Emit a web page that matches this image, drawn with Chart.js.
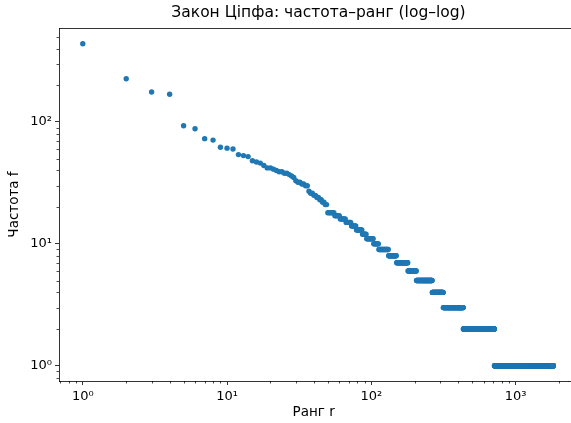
<!DOCTYPE html>
<html>
<head>
<meta charset="utf-8">
<script src="https://cdn.jsdelivr.net/npm/chart.js@4.4.1/dist/chart.umd.min.js"></script>
<style>
  html, body { margin: 0; padding: 0; background: #ffffff; }
  #wrap { width: 571px; height: 423px; }
</style>
</head>
<body>
<div id="wrap"><canvas id="c" width="571" height="423"></canvas></div>
<script>
// ---- Data ----
// Frequencies of ranks 1..49 (individually visible points)
const headFreqs = [438, 226, 176, 169, 93, 88, 73, 71, 62, 61, 60, 54, 53, 52, 48, 47, 46, 44, 42, 42,
                   41, 40, 39, 39, 38, 38, 37, 36, 35, 33, 32, 32, 31, 31, 30, 30, 27, 26, 26, 25,
                   25, 24, 24, 23, 23, 22, 22, 21, 21];
// Tail plateaus: frequency value and the last rank that has it
const tailFreqs    = [18, 17, 16, 15, 14, 13, 12, 11, 10, 9, 8, 7, 6, 5, 4, 3, 2, 1];
const tailLastRank = [55, 60, 66, 72, 78, 86, 92, 103, 112, 131, 149, 179, 205, 264, 315, 434, 714, 1830];
// Tick labels
const xTickValues = [1, 10, 100, 1000];
const xTickLabels = ['10⁰', '10¹', '10²', '10³'];
const yTickValues = [1, 10, 100];
const yTickLabels = ['10⁰', '10¹', '10²'];
const titleText = 'Закон Ціпфа: частота–ранг (log–log)';
const xTitle = 'Ранг r';
const yTitle = 'Частота f';

// ---- Build points ----
const points = [];
headFreqs.forEach((f, i) => points.push({ x: i + 1, y: f }));
let rank = headFreqs.length + 1;
tailFreqs.forEach((f, k) => {
  for (; rank <= tailLastRank[k]; rank++) points.push({ x: rank, y: f });
});

const FONT = "'DejaVu Sans', sans-serif";
const BLUE = '#1f77b4';

const decor = {
  id: 'decor',
  afterDraw(chart) {
    const ctx = chart.ctx;
    const a = chart.chartArea;
    ctx.save();
    // title, centred over the full (cropped) axes box as in the reference
    ctx.fillStyle = '#000';
    ctx.font = '15.5px ' + FONT;
    ctx.textAlign = 'center';
    ctx.textBaseline = 'middle';
    ctx.fillText(titleText, 318.5, 13);
    ctx.strokeStyle = '#000';
    ctx.lineWidth = 0.8;
    // top spine and bottom spine extended to the cropped right edge
    ctx.beginPath();
    ctx.moveTo(a.left, a.top + 0.5);
    ctx.lineTo(chart.width, a.top + 0.5);
    ctx.moveTo(a.right, a.bottom + 0.5);
    ctx.lineTo(chart.width, a.bottom + 0.5);
    ctx.stroke();
    const xs = chart.scales.x, ys = chart.scales.y;
    ctx.lineWidth = 0.7;
    for (let p = -1; p <= 4; p++) {
      for (let m = 2; m <= 9; m++) {
        const v = m * Math.pow(10, p);
        if (v > xs.min && v < xs.max) {
          const px = Math.round(xs.getPixelForValue(v)) + 0.5;
          ctx.beginPath(); ctx.moveTo(px, a.bottom); ctx.lineTo(px, a.bottom + 2.5); ctx.stroke();
        }
        if (v > ys.min && v < ys.max) {
          const py = Math.round(ys.getPixelForValue(v)) + 0.5;
          ctx.beginPath(); ctx.moveTo(a.left, py); ctx.lineTo(a.left - 2.5, py); ctx.stroke();
        }
      }
    }
    ctx.restore();
  }
};

new Chart(document.getElementById('c'), {
  type: 'scatter',
  data: {
    datasets: [{
      data: points,
      backgroundColor: BLUE,
      borderWidth: 0,
      pointRadius: 2.7,
      pointHoverRadius: 2.7
    }]
  },
  options: {
    responsive: false,
    animation: false,
    events: [],
    layout: { padding: { left: 0, right: 0, top: 28, bottom: 0 } },
    plugins: {
      legend: { display: false },
      tooltip: { enabled: false },
      title: { display: false }
    },
    scales: {
      x: {
        type: 'logarithmic',
        min: 0.684,
        max: 2323,
        afterFit(s) { s.height = 42; },
        afterBuildTicks(s) { s.ticks = xTickValues.map(v => ({ value: v })); },
        ticks: {
          autoSkip: false,
          maxRotation: 0,
          padding: 4,
          color: '#000',
          font: { family: FONT, size: 13 },
          callback(v) { const i = xTickValues.indexOf(v); return i >= 0 ? xTickLabels[i] : ''; }
        },
        grid: { drawOnChartArea: false, drawTicks: true, tickLength: 4, tickColor: '#000', tickWidth: 0.8 },
        border: { display: true, color: '#000', width: 0.8 },
        title: { display: true, text: xTitle, color: '#000', font: { family: FONT, size: 13.5 }, padding: { top: 2, bottom: 2 } }
      },
      y: {
        type: 'logarithmic',
        min: 0.75,
        max: 590,
        afterFit(s) { s.width = 59; },
        afterBuildTicks(s) { s.ticks = yTickValues.map(v => ({ value: v })); },
        ticks: {
          autoSkip: false,
          padding: 3,
          color: '#000',
          font: { family: FONT, size: 13 },
          callback(v) { const i = yTickValues.indexOf(v); return i >= 0 ? yTickLabels[i] : ''; }
        },
        grid: { drawOnChartArea: false, drawTicks: true, tickLength: 4, tickColor: '#000', tickWidth: 0.8 },
        border: { display: true, color: '#000', width: 0.8 },
        title: { display: true, text: yTitle, color: '#000', font: { family: FONT, size: 13.5 }, padding: { top: 6, bottom: 4 } }
      }
    }
  },
  plugins: [decor]
});
</script>
</body>
</html>
